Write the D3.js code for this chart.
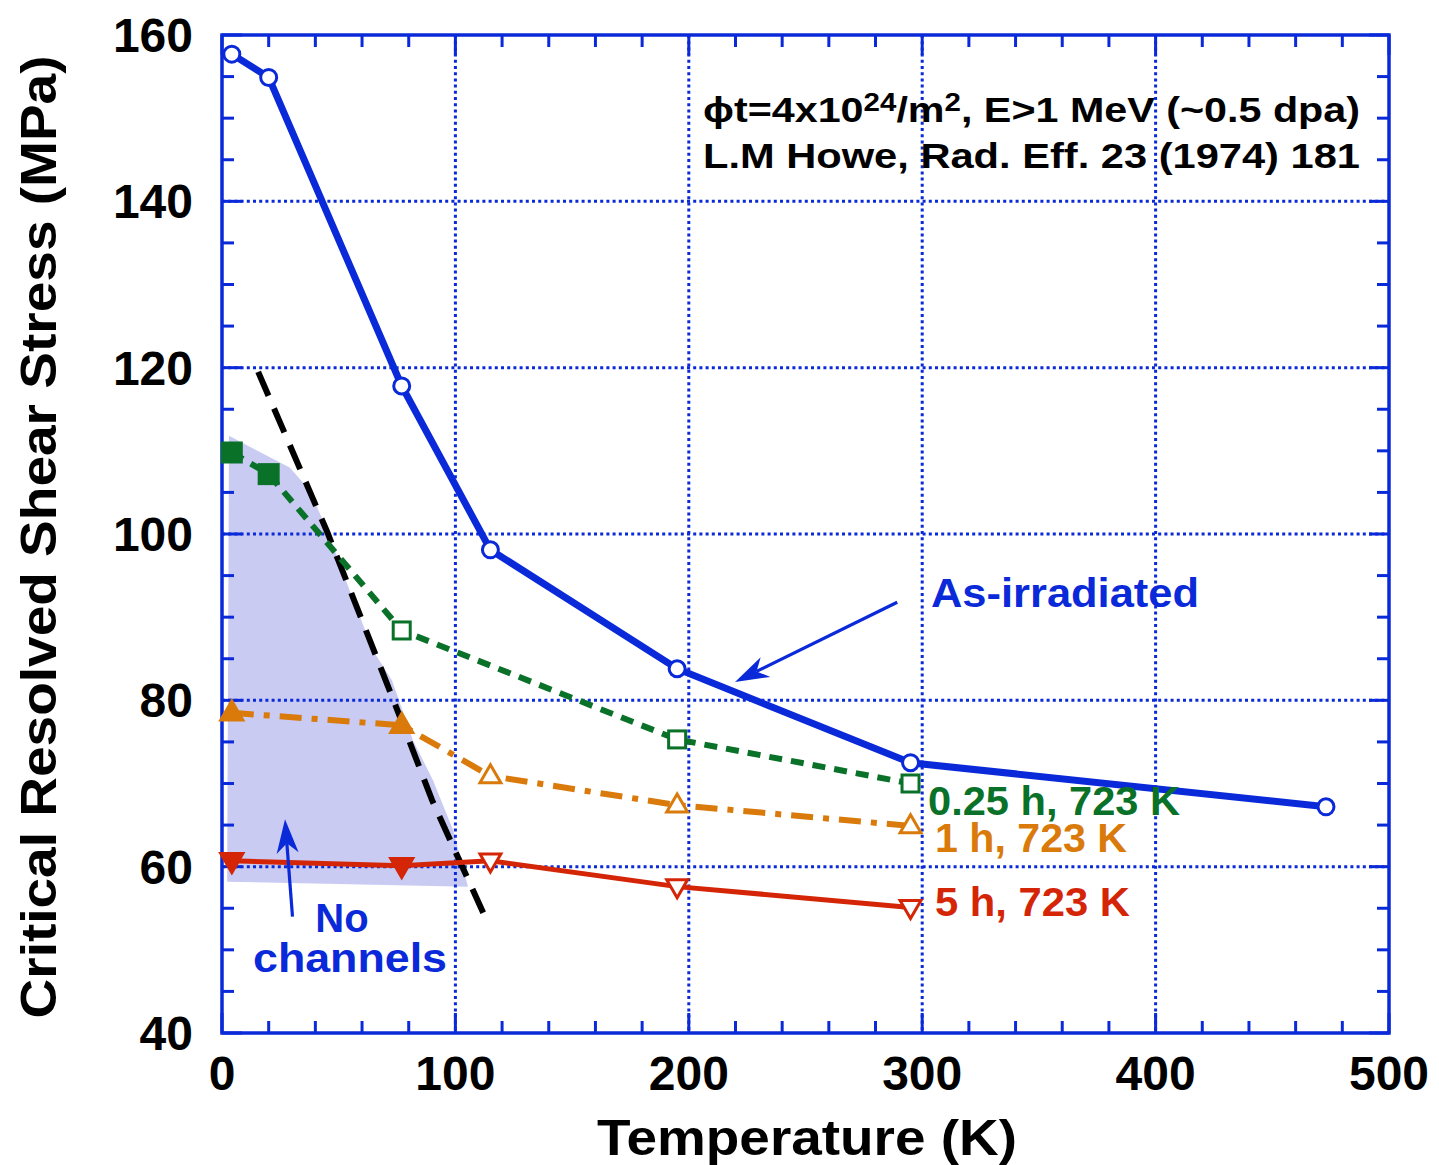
<!DOCTYPE html>
<html>
<head>
<meta charset="utf-8">
<script src="https://cdn.jsdelivr.net/npm/d3@7"></script>
<style>
  html, body { margin: 0; padding: 0; background: #fff; }
  svg { display: block; }
  text { font-family: "Liberation Sans", Arial, Helvetica, sans-serif; font-weight: bold; }
</style>
</head>
<body>
<svg id="chart" width="1439" height="1165"></svg>
<script>
// Critical resolved shear stress vs. test temperature, irradiated Zr (Howe 1974)

// ---- data ----
const asIrrT   = [4.2, 20, 77, 115, 195, 295, 473];
const asIrrTau = [157.7, 154.9, 117.8, 98.1, 83.8, 72.5, 67.2];

const ann025T   = [4.2, 20, 77, 195, 295];
const ann025Tau = [109.8, 107.2, 88.4, 75.3, 70.0];
const ann025Filled = [true, true, false, false, false];

const ann1T   = [4.2, 77, 115, 195, 295];
const ann1Tau = [78.5, 77.0, 70.9, 67.4, 64.9];
const ann1Filled = [true, true, false, false, false];

const ann5T   = [4.2, 77, 115, 195, 295];
const ann5Tau = [60.7, 60.1, 60.7, 57.6, 55.1];
const ann5Filled = [true, true, false, false, false];

// boundary of channel formation (dashed black guide line)
const boundaryT   = [15.5, 45, 76, 90, 112];
const boundaryTau = [119.5, 100.3, 78.2, 68.0, 54.4];

// "no channels" region outline
const regionT   = [3.0, 29, 37.5, 45, 55, 64.7, 72.8, 81.8, 90.4, 99, 105.4, 2.2];
const regionTau = [111.8, 108.0, 105.3, 100.5, 93.0, 86.0, 82.4, 75.2, 70.4, 64.4, 57.6, 58.2];

const xTicks = [0, 100, 200, 300, 400, 500];
const yTicks = [40, 60, 80, 100, 120, 140, 160];

// ---- colours ----
const BLUE = "#0a2ad9", GREEN = "#0a7128", ORANGE = "#d97a0b", RED = "#d42607";
const SHADE = "#c9cbf3";

// ---- layout ----
const svg = d3.select("#chart");
const L = 222, R = 1389, T = 35, B = 1033;
const x = d3.scaleLinear().domain([0, 500]).range([L, R]);
const y = d3.scaleLinear().domain([40, 160]).range([B, T]);

const zip = (a, b) => a.map((v, i) => [v, b[i]]);

// shaded region
svg.append("path")
  .attr("d", d3.line().x(d => x(d[0])).y(d => y(d[1]))(zip(regionT, regionTau)) + "Z")
  .attr("fill", SHADE).attr("stroke", "none");

// dotted grid
const grid = svg.append("g");
grid.selectAll("line.gx").data(xTicks.slice(1, -1)).join("line")
  .attr("x1", d => x(d)).attr("x2", d => x(d)).attr("y1", T).attr("y2", B)
  .attr("stroke", BLUE).attr("stroke-width", 3).attr("stroke-dasharray", "3,3.2");
grid.selectAll("line.gy").data(yTicks.slice(1, -1)).join("line")
  .attr("y1", d => y(d)).attr("y2", d => y(d)).attr("x1", L).attr("x2", R)
  .attr("stroke", BLUE).attr("stroke-width", 3).attr("stroke-dasharray", "3,3.2");

// inward ticks on all four sides
const xMinor = d3.range(0, 501, 20), yMinor = d3.range(40, 161, 5);
const tickG = svg.append("g").attr("stroke", BLUE).attr("stroke-width", 3);
xMinor.forEach(v => {
  const len = v % 100 === 0 ? 20 : 12;
  tickG.append("line").attr("x1", x(v)).attr("x2", x(v)).attr("y1", B).attr("y2", B - len);
  tickG.append("line").attr("x1", x(v)).attr("x2", x(v)).attr("y1", T).attr("y2", T + len);
});
yMinor.forEach(v => {
  const len = v % 20 === 0 ? 20 : 12;
  tickG.append("line").attr("y1", y(v)).attr("y2", y(v)).attr("x1", L).attr("x2", L + len);
  tickG.append("line").attr("y1", y(v)).attr("y2", y(v)).attr("x1", R).attr("x2", R - len);
});

// frame
svg.append("rect").attr("x", L).attr("y", T).attr("width", R - L).attr("height", B - T)
  .attr("fill", "none").attr("stroke", BLUE).attr("stroke-width", 3.5);

// boundary guide line
svg.append("path")
  .attr("d", d3.line().x(d => x(d[0])).y(d => y(d[1]))(zip(boundaryT, boundaryTau)))
  .attr("fill", "none").attr("stroke", "#000").attr("stroke-width", 6)
  .attr("stroke-dasharray", "26,14");

const line = d3.line().x(d => x(d[0])).y(d => y(d[1]));

// series lines
svg.append("path").attr("d", line(zip(ann5T, ann5Tau)))
  .attr("fill", "none").attr("stroke", RED).attr("stroke-width", 5);
svg.append("path").attr("d", line(zip(ann1T, ann1Tau)))
  .attr("fill", "none").attr("stroke", ORANGE).attr("stroke-width", 6)
  .attr("stroke-dasharray", "22,10,6,10");
svg.append("path").attr("d", line(zip(ann025T, ann025Tau)))
  .attr("fill", "none").attr("stroke", GREEN).attr("stroke-width", 6)
  .attr("stroke-dasharray", "13,9");
svg.append("path").attr("d", line(zip(asIrrT, asIrrTau)))
  .attr("fill", "none").attr("stroke", BLUE).attr("stroke-width", 7);

// markers
const triUp = s => `M0,${-s * 0.62}L${s * 0.58},${s * 0.38}L${-s * 0.58},${s * 0.38}Z`;
const triDown = s => `M0,${s * 0.62}L${s * 0.58},${-s * 0.38}L${-s * 0.58},${-s * 0.38}Z`;

svg.append("g").selectAll("path").data(zip(ann5T, ann5Tau).map((d, i) => [...d, ann5Filled[i]])).join("path")
  .attr("transform", d => `translate(${x(d[0])},${y(d[1])})`)
  .attr("d", d => triDown(d[2] ? 19 : 18))
  .attr("fill", d => d[2] ? RED : "#fff").attr("stroke", RED).attr("stroke-width", 3);

svg.append("g").selectAll("path").data(zip(ann1T, ann1Tau).map((d, i) => [...d, ann1Filled[i]])).join("path")
  .attr("transform", d => `translate(${x(d[0])},${y(d[1])})`)
  .attr("d", d => triUp(d[2] ? 19 : 18))
  .attr("fill", d => d[2] ? ORANGE : "#fff").attr("stroke", ORANGE).attr("stroke-width", 3);

svg.append("g").selectAll("rect").data(zip(ann025T, ann025Tau).map((d, i) => [...d, ann025Filled[i]])).join("rect")
  .attr("x", d => x(d[0]) - (d[2] ? 9.5 : 8.5)).attr("y", d => y(d[1]) - (d[2] ? 9.5 : 8.5))
  .attr("width", d => d[2] ? 19 : 17).attr("height", d => d[2] ? 19 : 17)
  .attr("fill", d => d[2] ? GREEN : "#fff").attr("stroke", GREEN).attr("stroke-width", 3);

svg.append("g").selectAll("circle").data(zip(asIrrT, asIrrTau)).join("circle")
  .attr("cx", d => x(d[0])).attr("cy", d => y(d[1])).attr("r", 8)
  .attr("fill", "#fff").attr("stroke", BLUE).attr("stroke-width", 3);

// tick labels
svg.append("g").selectAll("text").data(yTicks).join("text")
  .attr("x", L - 29).attr("y", d => y(d) + 17).attr("text-anchor", "end")
  .attr("font-size", 48).text(d => d);
svg.append("g").selectAll("text").data(xTicks).join("text")
  .attr("x", d => x(d)).attr("y", B + 57).attr("text-anchor", "middle")
  .attr("font-size", 48).text(d => d);

// axis titles
svg.append("text").attr("x", 807).attr("y", 1155).attr("text-anchor", "middle")
  .attr("font-size", 50).attr("textLength", 420).attr("lengthAdjust", "spacingAndGlyphs")
  .text("Temperature (K)");
svg.append("text").attr("transform", "translate(56,537) rotate(-90)").attr("text-anchor", "middle")
  .attr("font-size", 50).attr("textLength", 963).attr("lengthAdjust", "spacingAndGlyphs")
  .text("Critical Resolved Shear Stress (MPa)");

// fluence / reference note
const note = svg.append("text").attr("x", 703).attr("y", 122).attr("font-size", 35)
  .attr("textLength", 657).attr("lengthAdjust", "spacingAndGlyphs");
note.append("tspan").text("ϕt=4x10");
note.append("tspan").attr("dy", -11).attr("font-size", 25).text("24");
note.append("tspan").attr("dy", 11).text("/m");
note.append("tspan").attr("dy", -11).attr("font-size", 25).text("2");
note.append("tspan").attr("dy", 11).text(", E>1 MeV (~0.5 dpa)");
svg.append("text").attr("x", 703).attr("y", 168).attr("font-size", 35)
  .attr("textLength", 657).attr("lengthAdjust", "spacingAndGlyphs")
  .text("L.M Howe, Rad. Eff. 23 (1974) 181");

// series labels
const lab = (tx, ty, str, col, w) => svg.append("text").attr("x", tx).attr("y", ty)
  .attr("font-size", 40).attr("fill", col)
  .attr("textLength", w).attr("lengthAdjust", "spacingAndGlyphs").text(str);
lab(928, 815, "0.25 h, 723 K", GREEN, 252);
lab(935, 852, "1 h, 723 K", ORANGE, 192);
lab(935, 916, "5 h, 723 K", RED, 195);
lab(931, 607, "As-irradiated", BLUE, 268);

svg.append("text").attr("x", 342).attr("y", 932).attr("text-anchor", "middle")
  .attr("font-size", 40).attr("fill", BLUE).text("No");
svg.append("text").attr("x", 350).attr("y", 972).attr("text-anchor", "middle")
  .attr("font-size", 40).attr("fill", BLUE)
  .attr("textLength", 194).attr("lengthAdjust", "spacingAndGlyphs").text("channels");

// annotation arrows (anchored in data units)
function arrow(t0, s0, t1, s1) {
  const x0 = x(t0), y0 = y(s0), x1 = x(t1), y1 = y(s1);
  const ang = Math.atan2(y1 - y0, x1 - x0);
  const len = 34, half = 11, notch = 24;
  const ux = Math.cos(ang), uy = Math.sin(ang), nx = -uy, ny = ux;
  const bx = x1 - ux * len, by = y1 - uy * len;
  const mx = x1 - ux * notch, my = y1 - uy * notch;
  svg.append("line").attr("x1", x0).attr("y1", y0).attr("x2", mx).attr("y2", my)
    .attr("stroke", BLUE).attr("stroke-width", 3.2);
  svg.append("path")
    .attr("d", `M${x1},${y1}L${bx + nx * half},${by + ny * half}L${mx},${my}L${bx - nx * half},${by - ny * half}Z`)
    .attr("fill", BLUE);
}
arrow(289.3, 91.8, 219.8, 82.2);
arrow(30.2, 54.0, 27.0, 65.7);
</script>
</body>
</html>
